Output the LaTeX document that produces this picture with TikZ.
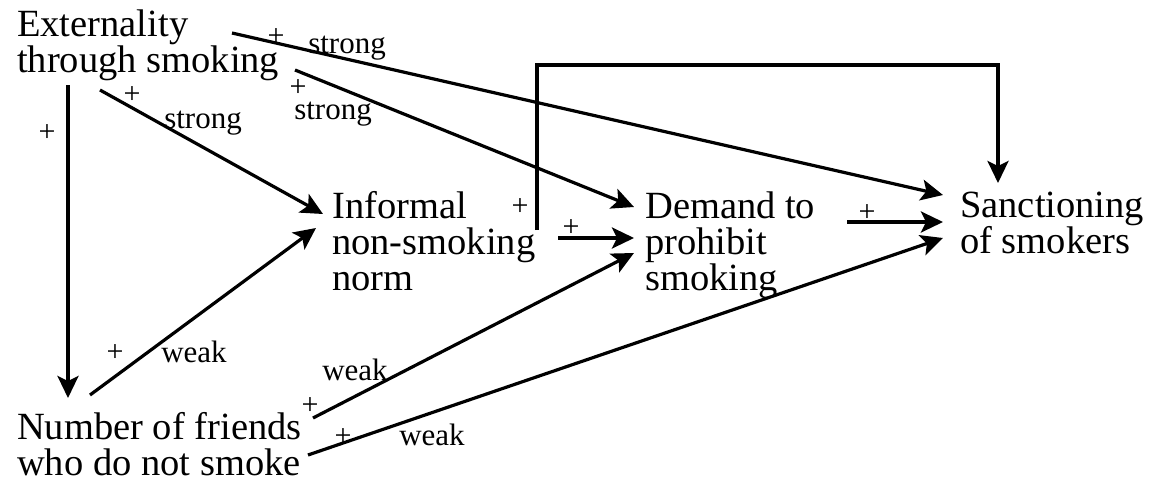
\documentclass[tikz,border=0pt]{standalone}
\usepackage{fontspec}
\setmainfont{Liberation Serif}
\usetikzlibrary{arrows.meta,calc}
\begin{document}
\begin{tikzpicture}[x=1pt,y=-1pt,
  concept/.style={inner sep=0pt,anchor=base west,align=left,
    font=\fontsize{38.5}{36}\selectfont},
  lbl/.style={inner sep=0pt,anchor=base,font=\fontsize{31}{31}\selectfont},
  sgn/.style={inner sep=0pt,anchor=center,font=\fontsize{30}{30}\selectfont},
  link/.style={line width=3.2pt,-{Stealth[length=22pt,width=21pt,inset=5pt]}}]
\useasboundingbox (0,0) rectangle (1151,482);

% concepts (anchored at the baseline of their last line)
\node[concept] (ext) at (17,72) {Externality\\through smoking};
\node[concept] (inf) at (332,290) {Informal\\non-smoking\\norm};
\node[concept] (dem) at (645,290) {Demand to\\prohibit\\smoking};
\node[concept] (san) at (960,253) {Sanctioning\\of smokers};
\node[concept] (num) at (17,475) {Number of friends\\who do not smoke};

% arrow end points, relative to the concept anchors
\coordinate (e1) at ($(ext.base west)+(51,13)$);
\coordinate (e2) at ($(ext.base west)+(83,18)$);
\coordinate (e3) at ($(ext.base west)+(278,-2)$);
\coordinate (e4) at ($(ext.base west)+(215,-39)$);
\coordinate (i1) at ($(inf.base west)+(205,-60)$);
\coordinate (i2) at ($(inf.base west)+(226,-52)$);
\coordinate (i0) at ($(inf.base west)+(-9,-76)$);
\coordinate (i9) at ($(inf.base west)+(-16,-62)$);
\coordinate (d0) at ($(dem.base west)+(-11,-83)$);
\coordinate (d1) at ($(dem.base west)+(-11,-52)$);
\coordinate (d9) at ($(dem.base west)+(-11,-37)$);
\coordinate (d2) at ($(dem.base west)+(202,-68)$);
\coordinate (s0) at ($(san.base west)+(-17,-58)$);
\coordinate (s1) at ($(san.base west)+(-17,-31)$);
\coordinate (s9) at ($(san.base west)+(-17,-15)$);
\coordinate (s8) at ($(san.base west)+(38,-70)$);
\coordinate (top) at ($(i1)+(0,-165)$);
\coordinate (n0) at ($(num.base west)+(51,-77)$);
\coordinate (n1) at ($(num.base west)+(73,-80)$);
\coordinate (n2) at ($(num.base west)+(296,-57)$);
\coordinate (n3) at ($(num.base west)+(291,-20)$);

% connectors
\draw[link] (e1) -- (n0);
\draw[link] (e2) -- (i0);
\draw[link] (e3) -- (d0);
\draw[link] (e4) -- (s0);
\draw[link] (i1) -- (top) -| (s8);
\draw[link] (i2) -- (d1);
\draw[link] (d2) -- (s1);
\draw[link] (n1) -- (i9);
\draw[link] (n2) -- (d9);
\draw[link] (n3) -- (s9);

% signs and strengths
\node[sgn] (p1) at (47,133) {+};
\node[sgn] (p2) at (132,95) {+};
\node[lbl] (l2) at (203,128) {strong};
\node[sgn] (p3) at (298,88) {+};
\node[lbl] (l3) at (333,119) {strong};
\node[sgn] (p4) at (276,37) {+};
\node[lbl] (l4) at (347,53) {strong};
\node[sgn] (p5) at (520,207) {+};
\node[sgn] (p6) at (571,228) {+};
\node[sgn] (p7) at (867,213) {+};
\node[sgn] (p8) at (115,353) {+};
\node[lbl] (l8) at (194,362) {weak};
\node[sgn] (p9) at (310,406) {+};
\node[lbl] (l9) at (355,380) {weak};
\node[sgn] (p10) at (343,437) {+};
\node[lbl] (l10) at (432,445) {weak};
\end{tikzpicture}
\end{document}
